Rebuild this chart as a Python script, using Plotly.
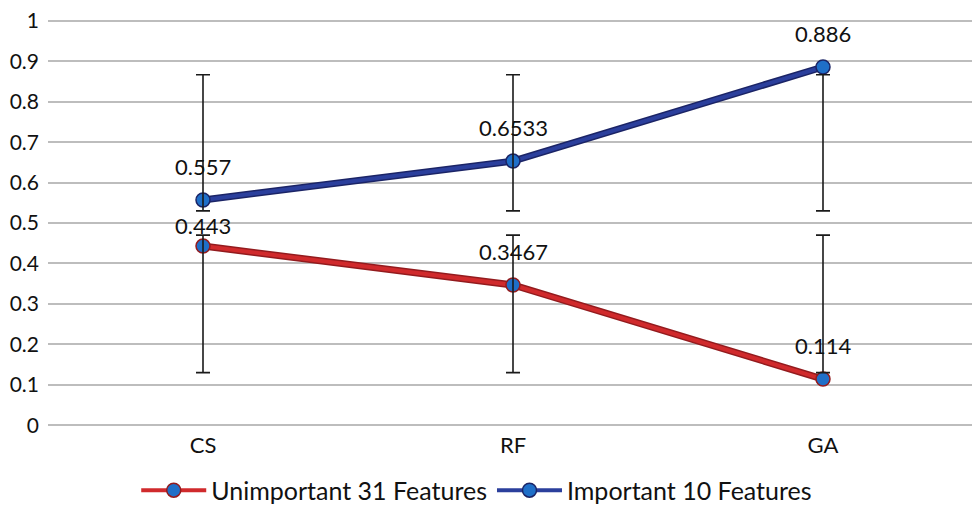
import plotly.graph_objects as go

categories = ["CS", "RF", "GA"]
unimportant = [0.443, 0.3467, 0.114]
important = [0.557, 0.6533, 0.886]
unimp_labels = ["0.443", "0.3467", "0.114"]
imp_labels = ["0.557", "0.6533", "0.886"]
# error bar extents (low, high)
unimp_err_low = [0.13, 0.13, 0.13]
unimp_err_high = [0.47, 0.47, 0.47]
imp_err_low = [0.53, 0.53, 0.53]
imp_err_high = [0.867, 0.867, 0.867]
unimp_label_shift = [21, 34, 34]
imp_label_shift = [34, 34, 34]
yticks = [0, 0.1, 0.2, 0.3, 0.4, 0.5, 0.6, 0.7, 0.8, 0.9, 1]
ytick_text = ["0", "0.1", "0.2", "0.3", "0.4", "0.5", "0.6", "0.7", "0.8", "0.9", "1"]

FONT = "Lato"
RED = "#D02A2C"
RED_DARK = "#931B1E"
BLUE = "#2B3F9C"
BLUE_DARK = "#1B2466"
MFILL = "#1F6FC8"

fig = go.Figure()

# darker outline under each line
for vals, dark in [(unimportant, RED_DARK), (important, BLUE_DARK)]:
    fig.add_trace(go.Scatter(
        x=categories, y=vals, mode="lines",
        line=dict(color=dark, width=7),
        showlegend=False, hoverinfo="skip"))

fig.add_trace(go.Scatter(
    x=categories, y=unimportant, mode="lines+markers",
    name="Unimportant 31 Features",
    line=dict(color=RED, width=4),
    marker=dict(size=14, color=MFILL, line=dict(color=RED_DARK, width=1.5))))
fig.add_trace(go.Scatter(
    x=categories, y=important, mode="lines+markers",
    name="Important 10 Features",
    line=dict(color=BLUE, width=4),
    marker=dict(size=14, color=MFILL, line=dict(color=BLUE_DARK, width=1.5))))

# error bars (on top of lines)
for low, high in [(unimp_err_low, unimp_err_high), (imp_err_low, imp_err_high)]:
    fig.add_trace(go.Scatter(
        x=categories, y=low, mode="markers",
        marker=dict(size=1, color="rgba(0,0,0,0)"),
        error_y=dict(type="data", symmetric=False,
                     array=[h - l for h, l in zip(high, low)],
                     arrayminus=[0] * len(low),
                     color="#1A1A1A", thickness=1.6, width=7),
        showlegend=False, hoverinfo="skip"))

for vals, labels, shifts in [(unimportant, unimp_labels, unimp_label_shift),
                             (important, imp_labels, imp_label_shift)]:
    for c, v, t, s in zip(categories, vals, labels, shifts):
        fig.add_annotation(x=c, y=v, text=t, showarrow=False, yshift=s,
                           font=dict(family=FONT, size=22, color="#111111"))

fig.update_layout(
    width=972, height=497,
    margin=dict(l=40, r=2, t=11, b=75, autoexpand=False),
    paper_bgcolor="white", plot_bgcolor="white",
    font=dict(family=FONT, size=22, color="#111111"),
    legend=dict(orientation="h", x=0.461, xanchor="center", y=-0.147, yanchor="middle",
                font=dict(family=FONT, size=25), itemwidth=65, tracegroupgap=0),
    xaxis=dict(range=[-0.5, 2.5], showgrid=False, showline=False, zeroline=False,
               ticks="", tickfont=dict(family=FONT, size=22), automargin=False),
    yaxis=dict(range=[-0.012, 1.0048], tickvals=yticks, ticktext=ytick_text,
               showgrid=True, gridcolor="#BDBDBD", gridwidth=1.5,
               zeroline=False, showline=False, ticks="", ticklen=0,
               tickfont=dict(family=FONT, size=21), automargin=False,
               ticklabelstandoff=8, ticklabeloverflow="allow"),
)

fig.write_html("out.html")
